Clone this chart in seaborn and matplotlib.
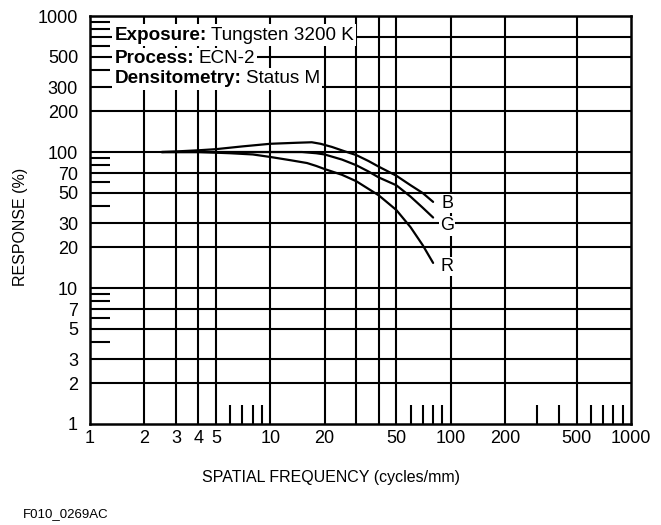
import pandas as pd
import matplotlib
matplotlib.use("Agg")
import matplotlib.pyplot as plt
import seaborn as sns
from matplotlib.ticker import FixedLocator, FixedFormatter, NullFormatter

# MTF-kurver (frekvens i cycles/mm, respons i %)
b_freq = [2.5, 3, 4, 5, 7, 10, 14, 17, 19, 22, 26, 30, 35, 40, 50, 60, 70, 80]
b_resp = [100, 101, 103, 105, 110, 115, 117, 118, 115, 109, 101, 95, 86, 78, 67, 57, 50, 43]

g_freq = [2.5, 5, 10, 15, 18, 20, 25, 30, 35, 40, 50, 60, 70, 80]
g_resp = [100, 100, 100, 100, 98, 96, 88, 80, 72, 65, 57, 47, 39, 33]

r_freq = [2.5, 4, 6, 8, 10, 13, 16, 18, 20, 25, 30, 40, 50, 60, 70, 80]
r_resp = [100, 100, 98, 96, 92, 87, 83, 79, 75, 68, 61, 48, 37.5, 28, 20.7, 15.3]

kurver = ['B', 'G', 'R']
label_x = [96, 96, 96]
label_y = [42, 28.6, 14.3]

# gitter og ticks
x_grid = [2, 3, 4, 5, 10, 20, 30, 40, 50, 100, 200, 500]
y_grid = [2, 3, 5, 7, 10, 20, 30, 50, 70, 100, 200, 300, 500, 700]
x_minor = [6, 7, 8, 9, 60, 70, 80, 90, 300, 400, 600, 700, 800, 900]
y_minor = [4, 6, 8, 9, 40, 60, 80, 90, 400, 600, 800, 900]
x_ticks = [1, 2, 3, 4, 5, 10, 20, 50, 100, 200, 500, 1000]
y_ticks = [1, 2, 3, 5, 7, 10, 20, 30, 50, 70, 100, 200, 300, 500, 1000]

info_bold = ['Exposure:', 'Process:', 'Densitometry:']
info_text = ['Tungsten 3200 K', 'ECN-2', 'Status M']

df = pd.concat([
    pd.DataFrame({'freq': b_freq, 'resp': b_resp, 'kurve': 'B'}),
    pd.DataFrame({'freq': g_freq, 'resp': g_resp, 'kurve': 'G'}),
    pd.DataFrame({'freq': r_freq, 'resp': r_resp, 'kurve': 'R'}),
], ignore_index=True)

sns.set_theme(style="white", rc={'text.color': 'black', 'axes.labelcolor': 'black',
                                 'xtick.color': 'black', 'ytick.color': 'black'})
plt.rcParams['font.family'] = ['Liberation Sans', 'DejaVu Sans']

fig = plt.figure(figsize=(6.61, 5.25), dpi=100)
ax = fig.add_axes([0.136, 0.1924, 0.8185, 0.777])
ax.set_xscale('log')
ax.set_yscale('log')

# gitterlinjer
ax.vlines(x_grid, 1, 1000, colors='black', lw=1.5, zorder=1)
ax.hlines(y_grid, 1, 1000, colors='black', lw=1.5, zorder=1)

sns.lineplot(data=df, x='freq', y='resp', hue='kurve',
             palette={'B': 'black', 'G': 'black', 'R': 'black'},
             sort=False, estimator=None, legend=False, lw=1.6, ax=ax, zorder=4)

for navn, lx, ly in zip(kurver, label_x, label_y):
    ax.text(lx, ly, navn, ha='center', va='center', fontsize=13, zorder=5,
            bbox=dict(boxstyle='square,pad=0.06', fc='white', ec='none'))

# info-tekst med hvid baggrund
info_y = [0.953, 0.896, 0.846]
for fed, tekst, yy in zip(info_bold, info_text, info_y):
    t = ax.text(0.0455, yy, fed, transform=ax.transAxes, ha='left', va='center',
                fontsize=13.6, fontweight='bold', zorder=3,
                bbox=dict(boxstyle='square,pad=0.12', fc='white', ec='none'))
    ax.annotate(tekst, xy=(1, 0.5), xycoords=t, xytext=(3.2, 0),
                textcoords='offset points', ha='left', va='center',
                fontsize=13.6, zorder=3,
                bbox=dict(boxstyle='square,pad=0.12', fc='white', ec='none'))

ax.set_xlim(1, 1000)
ax.set_ylim(1, 1000)

ax.xaxis.set_major_locator(FixedLocator(x_ticks))
ax.xaxis.set_major_formatter(FixedFormatter([str(v) for v in x_ticks]))
ax.yaxis.set_major_locator(FixedLocator(y_ticks))
ax.yaxis.set_major_formatter(FixedFormatter([str(v) for v in y_ticks]))
ax.xaxis.set_minor_locator(FixedLocator(x_minor))
ax.yaxis.set_minor_locator(FixedLocator(y_minor))
ax.xaxis.set_minor_formatter(NullFormatter())
ax.yaxis.set_minor_formatter(NullFormatter())

ax.tick_params(which='major', length=0, labelsize=13, colors='black')
ax.tick_params(axis='x', which='major', pad=4)
ax.tick_params(axis='y', which='major', pad=8.5)
ax.tick_params(axis='x', which='minor', direction='in', length=13.7, width=1.5,
               bottom=True, top=False, color='black')
ax.tick_params(axis='y', which='minor', direction='in', length=14.4, width=1.5,
               left=True, right=False, color='black')

for sp in ax.spines.values():
    sp.set_linewidth(1.8)
    sp.set_color('black')
    sp.set_zorder(6)

ax.set_xlabel('SPATIAL FREQUENCY (cycles/mm)', fontsize=11.5)
ax.set_ylabel('RESPONSE (%)', fontsize=11.5)
ax.xaxis.label.set_va('center')
ax.yaxis.label.set_va('center')
ax.xaxis.set_label_coords(0.445, -0.132)
ax.yaxis.set_label_coords(-0.128, 0.483)

fig.text(23 / 661, 1 - 514 / 525, 'F010_0269AC', ha='left', va='center', fontsize=9.5)

fig.savefig('out.png', dpi=100)
